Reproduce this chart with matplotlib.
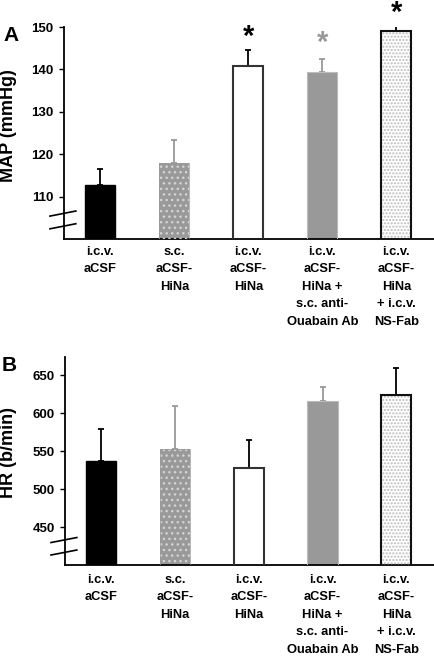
import matplotlib
matplotlib.use("Agg")
import matplotlib.pyplot as plt
from matplotlib.lines import Line2D

plt.rcParams['font.family'] = ['Liberation Sans', 'DejaVu Sans']
plt.rcParams['font.weight'] = 'bold'
plt.rcParams['hatch.linewidth'] = 1.0

categories = ["i.c.v.\naCSF", "s.c.\naCSF-\nHiNa", "i.c.v.\naCSF-\nHiNa",
              "i.c.v.\naCSF-\nHiNa +\ns.c. anti-\nOuabain Ab",
              "i.c.v.\naCSF-\nHiNa\n+ i.c.v.\nNS-Fab"]
map_mean = [112.8, 118.0, 140.8, 139.4, 149.1]
map_err = [3.8, 5.4, 3.8, 3.1, 2.8]
hr_mean = [537, 553, 528, 616, 624]
hr_err = [42, 56, 37, 18, 35]
map_ticks = [110, 120, 130, 140, 150]
hr_ticks = [450, 500, 550, 600, 650]
star_idx = [2, 3, 4]
star_y = [147.6, 146.3, 153.3]
star_colors = ['black', '#999999', 'black']

face = ['black', '#999999', 'white', '#999999', 'white']
edge = ['black', '#999999', '#333333', '#bbbbbb', '#111111']
edge_lw = [1.0, 0.5, 1.5, 0.8, 1.5]
hatch = [None, '...', None, None, '.....']
hatch_col = [None, '#d4d4d4', None, None, '#bbbbbb']
err_col = ['black', '#999999', 'black', '#999999', 'black']

fig = plt.figure(figsize=(4.34, 6.56), dpi=100)
W, H = 434, 656
axA = fig.add_axes([64 / W, 1 - 239 / H, 370 / W, 212 / H])
axB = fig.add_axes([65 / W, 1 - 565 / H, 369 / W, 208 / H])

x = list(range(len(categories)))
bw = 0.41


def draw(ax, means, errs, ylo, yhi, ticks, xpad):
    for i in x:
        ax.bar(i, means[i], width=bw, bottom=0, color=face[i], edgecolor='none',
               linewidth=0, zorder=2)
        if hatch[i]:
            ax.bar(i, means[i], width=bw, facecolor='none', edgecolor=hatch_col[i],
                   linewidth=0, hatch=hatch[i], zorder=3)
        ax.bar(i, means[i], width=bw, facecolor='none', edgecolor=edge[i],
               linewidth=edge_lw[i], zorder=4)
        ax.errorbar(i, means[i], yerr=[[0], [errs[i]]], ecolor=err_col[i],
                    elinewidth=1.3, capsize=2.2, capthick=1.3, fmt='none', zorder=1)
    ax.set_ylim(ylo, yhi)
    ax.set_xlim(-0.49, 4.51)
    ax.set_yticks(ticks)
    ax.set_yticklabels([str(t) for t in ticks], fontsize=9.5, fontweight='bold')
    ax.set_xticks(x)
    ax.set_xticklabels(categories, fontsize=9.3, fontweight='bold', linespacing=1.6,
                       va='top')
    ax.tick_params(axis='x', length=0, pad=xpad)
    ax.tick_params(axis='y', length=3.5, width=1.0, pad=4, direction='out')
    for s in ['top', 'right']:
        ax.spines[s].set_visible(False)
    ax.spines['left'].set_linewidth(1.3)
    ax.spines['bottom'].set_linewidth(1.3)
    # axis break marks
    for yy in [0.12, 0.06]:
        ax.add_line(Line2D([-0.038, 0.032], [yy - 0.012, yy + 0.012],
                           transform=ax.transAxes, color='black', lw=1.2,
                           clip_on=False))


draw(axA, map_mean, map_err, 100, 150, map_ticks, 5)
draw(axB, hr_mean, hr_err, 400, 674, hr_ticks, 6.5)

for i, yv, c in zip(star_idx, star_y, star_colors):
    axA.text(i, yv, '*', ha='center', va='center', fontsize=21, fontweight='bold',
             color=c, clip_on=False)

fig.text(9 / W, 1 - 126 / H, 'MAP (mmHg)', rotation=90, ha='center', va='center',
         fontsize=13, fontweight='bold')
fig.text(9 / W, 1 - 452 / H, 'HR (b/min)', rotation=90, ha='center', va='center',
         fontsize=13, fontweight='bold')
fig.text(3 / W, 1 - 26 / H, 'A', fontsize=15, fontweight='bold', va='top', ha='left')
fig.text(2 / W, 1 - 356 / H, 'B', fontsize=15, fontweight='bold', va='top', ha='left')

fig.savefig('out.png', dpi=100)
